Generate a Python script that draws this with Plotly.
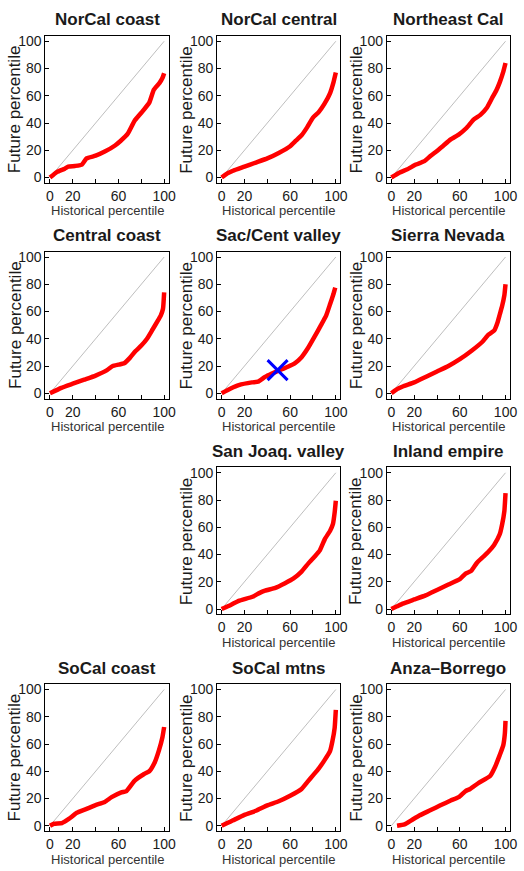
import plotly.graph_objects as go

W, H = 524, 871

# ---------------- data ----------------
norcal_coast_x = [0, 6, 13, 16, 22, 28, 32, 40, 48, 57, 62, 68, 74, 80, 87, 91, 96, 98.5, 100]
norcal_coast_y = [0, 4, 6.5, 8, 8.5, 9.5, 14, 16, 19, 23.5, 27, 32, 41.5, 47.5, 55, 64.5, 69.5, 73, 76.5]

norcal_central_x = [0, 5, 10, 20, 30, 40, 50, 60, 65, 70, 75, 80, 85, 90, 95, 98, 100]
norcal_central_y = [0, 3, 5, 8, 11, 14, 18, 23, 27, 31, 37, 44, 48, 54, 62, 70, 77]

northeast_x = [0, 7, 14, 21.5, 29, 34.5, 40, 45, 52, 59, 66, 72, 78, 83.5, 88, 92, 95, 98, 100]
northeast_y = [0, 3.5, 6, 9.5, 12, 16, 19.5, 23, 28, 31.5, 36.5, 42.5, 46, 51, 58, 64, 70, 77.5, 84]

central_coast_x = [0, 10, 20, 30, 40, 50, 55, 60, 65, 70, 75, 80, 85, 90, 95, 97, 99, 100]
central_coast_y = [0, 4, 7, 10, 13, 17, 20, 21, 22, 26, 31, 35, 40, 47, 54, 57, 62, 74]

sac_x = [0, 8, 15, 26.5, 32, 38, 44, 49.5, 58, 64, 70, 75.5, 81, 87, 91.5, 95, 98, 99.5]
sac_y = [0, 3.5, 6, 8, 8.5, 12, 14.5, 16.5, 19.5, 22, 26.5, 33, 41, 50, 57, 65.5, 73, 77.5]
sac_mark_x = [49]
sac_mark_y = [17]

sierra_x = [0, 5, 10, 20, 30, 40, 50, 60, 70, 80, 85, 90, 93, 95, 97, 99, 100]
sierra_y = [0, 3, 5, 8, 12, 16, 20, 25, 31, 38, 43, 46, 52, 58, 64, 72, 80]

sanjoaq_x = [0, 8, 15, 27, 32.5, 38, 47, 55.5, 63, 70, 76, 81.5, 86, 90.5, 95, 97.5, 99, 100]
sanjoaq_y = [0, 3, 6, 9, 11.5, 13.5, 15.5, 19, 22.5, 27.5, 33.5, 38.5, 43, 51.5, 57.5, 62.5, 71, 79.5]

inland_x = [0, 5, 10, 20, 30, 40, 50, 60, 65, 70, 75, 80, 85, 90, 95, 97, 99, 100]
inland_y = [0, 2, 4, 7, 10, 14, 18, 22, 26, 28, 34, 38, 42, 47, 55, 62, 72, 85]

socal_coast_x = [0, 3.5, 10.5, 16.5, 23.5, 31, 39.5, 48, 54, 62.5, 67, 74, 82.5, 87, 91.5, 95.5, 98.5, 100]
socal_coast_y = [0, 1.5, 2, 5, 9.5, 12, 15, 17.5, 21, 24.5, 25.5, 33, 38, 40, 46, 55.5, 65, 72.5]

socal_mtns_x = [0, 5, 10, 20, 30, 40, 50, 60, 70, 75, 80, 85, 90, 95, 97, 99, 100]
socal_mtns_y = [0, 2, 4, 8, 11, 15, 18, 22, 27, 32, 37, 42, 48, 55, 62, 72, 85]

anza_x = [5, 11.5, 17.5, 24.5, 34.5, 43, 52, 59, 65, 69, 76.5, 86.5, 91, 95, 98, 99.4, 100]
anza_y = [0, 1, 4, 7.5, 11.5, 15, 18.5, 21, 25.5, 27, 31.5, 36.5, 43.5, 52, 59, 67.5, 77]

diag = [0, 100]
x_tickvals = [0, 20, 40, 60, 80, 100]
x_ticktext = ["0", "20", "", "60", "", "100"]
y_tickvals = [0, 20, 40, 60, 80, 100]

titles = ["NorCal coast", "NorCal central", "Northeast Cal",
          "Central coast", "Sac/Cent valley", "Sierra Nevada",
          "San Joaq. valley", "Inland empire",
          "SoCal coast", "SoCal mtns", "Anza\u2013Borrego"]

panels = [
    (0, 0, titles[0], norcal_coast_x, norcal_coast_y),
    (0, 1, titles[1], norcal_central_x, norcal_central_y),
    (0, 2, titles[2], northeast_x, northeast_y),
    (1, 0, titles[3], central_coast_x, central_coast_y),
    (1, 1, titles[4], sac_x, sac_y),
    (1, 2, titles[5], sierra_x, sierra_y),
    (2, 1, titles[6], sanjoaq_x, sanjoaq_y),
    (2, 2, titles[7], inland_x, inland_y),
    (3, 0, titles[8], socal_coast_x, socal_coast_y),
    (3, 1, titles[9], socal_mtns_x, socal_mtns_y),
    (3, 2, titles[10], anza_x, anza_y),
]

# ---------------- layout geometry (pixels) ----------------
col_left = [46, 220, 392]
box_w = 125
row_top = [33, 250, 467, 685]
box_h = 148

FONT = "Liberation Sans, Arial, Helvetica, sans-serif"
fig = go.Figure()
layout = dict(width=W, height=H, margin=dict(l=0, r=0, t=0, b=0),
              paper_bgcolor="white", plot_bgcolor="white", showlegend=False,
              font=dict(family=FONT, color="black"))
annotations = []

for k, (r, c, name, xs, ys) in enumerate(panels, start=1):
    sx = "" if k == 1 else str(k)
    l = col_left[c]
    rr = l + box_w
    t = row_top[r]
    b = t + box_h
    layout["xaxis" + sx] = dict(
        domain=[l / W, rr / W], range=[-4, 104], anchor="y" + sx,
        showline=True, mirror=True, linecolor="black", linewidth=1,
        ticks="inside", ticklen=4, tickcolor="black", tickwidth=1,
        tickvals=x_tickvals, ticktext=x_ticktext,
        showgrid=False, zeroline=False,
        tickfont=dict(family=FONT, size=14, color="#1a1a1a"))
    layout["yaxis" + sx] = dict(
        domain=[1 - b / H, 1 - t / H], range=[-4, 104], anchor="x" + sx,
        showline=True, mirror=True, linecolor="black", linewidth=1,
        ticks="inside", ticklen=4, tickcolor="black", tickwidth=1,
        tickvals=y_tickvals, showgrid=False, zeroline=False,
        tickfont=dict(family=FONT, size=14, color="#1a1a1a"))

    fig.add_trace(go.Scatter(x=diag, y=diag, mode="lines",
                             line=dict(color="#bebebe", width=1),
                             xaxis="x" + sx, yaxis="y" + sx, hoverinfo="skip"))
    fig.add_trace(go.Scatter(x=xs, y=ys, mode="lines",
                             line=dict(color="#ff0000", width=4.5, shape="spline", smoothing=0.4),
                             xaxis="x" + sx, yaxis="y" + sx))
    if name == "Sac/Cent valley":
        fig.add_trace(go.Scatter(x=sac_mark_x, y=sac_mark_y, mode="markers",
                                 marker=dict(symbol="x-thin", size=20,
                                             line=dict(color="#0000ff", width=3)),
                                 xaxis="x" + sx, yaxis="y" + sx))

    cx = (l + rr) / 2 / W
    cy = 1 - (t + b) / 2 / H
    annotations.append(dict(text="<b>" + name + "</b>", x=cx, y=1 - (t - 16) / H,
                            xref="paper", yref="paper", xanchor="center", yanchor="middle",
                            showarrow=False, font=dict(family=FONT, size=17, color="#1a1a1a")))
    annotations.append(dict(text="Future percentile", x=(l - 31) / W, y=cy,
                            xref="paper", yref="paper", xanchor="center", yanchor="middle",
                            textangle=-90, showarrow=False,
                            font=dict(family=FONT, size=17, color="#1a1a1a")))
    annotations.append(dict(text="Historical percentile", x=cx, y=1 - (b + 28) / H,
                            xref="paper", yref="paper", xanchor="center", yanchor="middle",
                            showarrow=False, font=dict(family=FONT, size=13, color="#333333")))

layout["annotations"] = annotations
fig.update_layout(**layout)
fig.write_html("out.html")
